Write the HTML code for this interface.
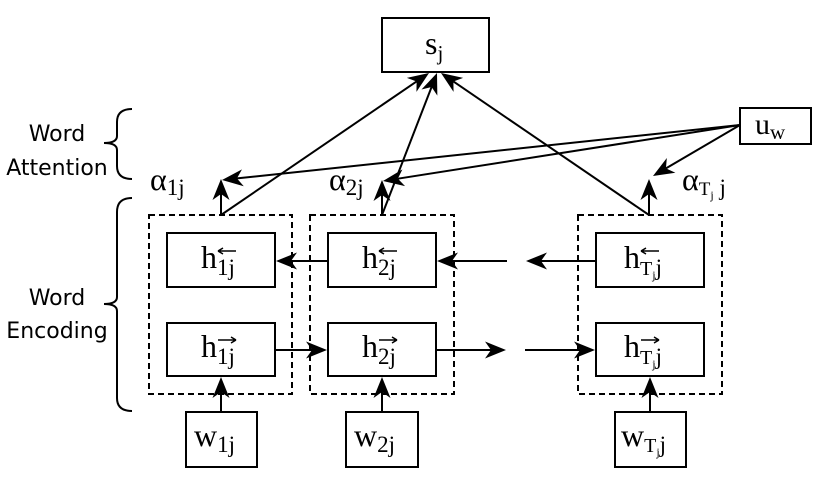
<!DOCTYPE html>
<html><head><meta charset="utf-8"><style>
html,body{margin:0;padding:0;background:#fff;}
svg{display:block;}
</style></head><body>
<svg id="sv" width="830" height="487" viewBox="0 0 830 487" xmlns="http://www.w3.org/2000/svg">
<g stroke="#000" stroke-width="2" fill="none">
<rect x="382" y="18" width="107" height="54"/>
<rect x="740" y="108" width="71" height="36"/>
<rect x="167" y="233" width="108" height="54"/>
<rect x="328" y="233" width="108" height="54"/>
<rect x="596" y="233" width="108" height="54"/>
<rect x="167" y="323" width="108" height="53"/>
<rect x="328" y="323" width="108" height="53"/>
<rect x="596" y="323" width="108" height="53"/>
<rect x="186" y="412" width="71" height="55"/>
<rect x="346" y="412" width="72" height="55"/>
<rect x="615" y="412" width="71" height="55"/>
</g>
<g stroke="#000" stroke-width="2" fill="none" stroke-dasharray="6,4">
<rect x="149" y="215" width="143" height="179"/>
<rect x="310" y="215" width="144" height="179"/>
<rect x="578" y="215" width="144" height="179"/>
</g>
<g id="arr" stroke="#000" stroke-width="2" fill="none"></g>
<g stroke="#000" stroke-width="2" fill="none">
<path d="M132,109 Q117,109 117,122 L117,136 Q117,143 104,143 Q117,143 117,150 L117,166 Q117,179 132,179"/>
<path d="M132,198 Q117,198 117,212 L117,297 Q117,304 104,304 Q117,304 117,311 L117,398 Q117,411 132,411"/>
</g>
<g style="font-family:'DejaVu Sans','Liberation Sans',sans-serif;font-size:22px" fill="#000" text-anchor="middle">
<text x="57" y="141">Word</text>
<text x="57" y="175">Attention</text>
<text x="57" y="305">Word</text>
<text x="57" y="338">Encoding</text>
</g>
<g style="font-family:'Liberation Serif',serif;font-size:32px" fill="#000">
<text x="425" y="54">s<tspan style="font-size:21px" dy="6">j</tspan></text>
<text x="755" y="134" style="font-size:30px">u<tspan style="font-size:21px" dy="5">w</tspan></text>
<text x="150" y="190">α<tspan style="font-size:23px" dy="5">1j</tspan></text>
<text x="329" y="190">α<tspan style="font-size:23px" dy="5">2j</tspan></text>
<text x="682" y="190">α<tspan style="font-size:19px" dy="5">T</tspan><tspan style="font-size:12px" dy="4">j</tspan><tspan style="font-size:23px" dy="-4"> j</tspan></text>
</g>
<g style="font-family:'Liberation Serif',serif;font-size:32px" fill="#000">
<text x="201" y="268">h<tspan style="font-size:23px" dy="7">1j</tspan></text>
<text x="362" y="268">h<tspan style="font-size:23px" dy="7">2j</tspan></text>
<text x="624" y="268">h<tspan style="font-size:20px" dy="7">T</tspan><tspan style="font-size:12px" dy="4">j</tspan><tspan style="font-size:23px" dy="-4">j</tspan></text>
<text x="201" y="357">h<tspan style="font-size:23px" dy="7">1j</tspan></text>
<text x="362" y="357">h<tspan style="font-size:23px" dy="7">2j</tspan></text>
<text x="624" y="357">h<tspan style="font-size:20px" dy="7">T</tspan><tspan style="font-size:12px" dy="4">j</tspan><tspan style="font-size:23px" dy="-4">j</tspan></text>
<text x="194" y="446">w<tspan style="font-size:23px" dy="6">1j</tspan></text>
<text x="354" y="446">w<tspan style="font-size:23px" dy="6">2j</tspan></text>
<text x="621" y="446">w<tspan style="font-size:20px" dy="6">T</tspan><tspan style="font-size:12px" dy="4">j</tspan><tspan style="font-size:23px" dy="-4">j</tspan></text>
</g>
<g stroke="#000" stroke-width="1.5" fill="none">
<path d="M218,251 h18 M218,251 l5,-3 M218,251 l5,3"/>
<path d="M379,251 h18 M379,251 l5,-3 M379,251 l5,3"/>
<path d="M641,251 h18 M641,251 l5,-3 M641,251 l5,3"/>
<path d="M218,340 h18 M236,340 l-5,-3 M236,340 l-5,3"/>
<path d="M379,340 h18 M397,340 l-5,-3 M397,340 l-5,3"/>
<path d="M641,340 h18 M659,340 l-5,-3 M659,340 l-5,3"/>
</g>
</svg>
<script>
(function(){
var L=[[221,215,429,73],[382,215,437,73],[649,215,441,73],
[740,125,222,180],[740,125,383,181],[740,125,653,176],
[221,215,221,179],[382,215,382,180],[649,215,649,179],
[328,261,276,261],[507,261,437,261],[596,261,526,261],
[275,350,327,350],[436,350,506,350],[525,350,595,350],
[221,412,221,377],[382,412,382,377],[650,412,650,377]];
var g=document.getElementById('arr'),h='';
L.forEach(function(a){
var dx=a[2]-a[0],dy=a[3]-a[1],d=Math.sqrt(dx*dx+dy*dy),ux=dx/d,uy=dy/d,px=-uy,py=ux;
var len=21,w=8.5,n=6;
var bx=a[2]-ux*len,by=a[3]-uy*len;
var nx=a[2]-ux*(len-n),ny=a[3]-uy*(len-n);
h+='<line x1="'+a[0]+'" y1="'+a[1]+'" x2="'+nx+'" y2="'+ny+'"/>';
h+='<path stroke="none" fill="#000" d="M'+a[2]+','+a[3]+' L'+(bx+px*w)+','+(by+py*w)+' L'+nx+','+ny+' L'+(bx-px*w)+','+(by-py*w)+' Z"/>';
});
g.innerHTML=h;
})();
</script>
</body></html>
